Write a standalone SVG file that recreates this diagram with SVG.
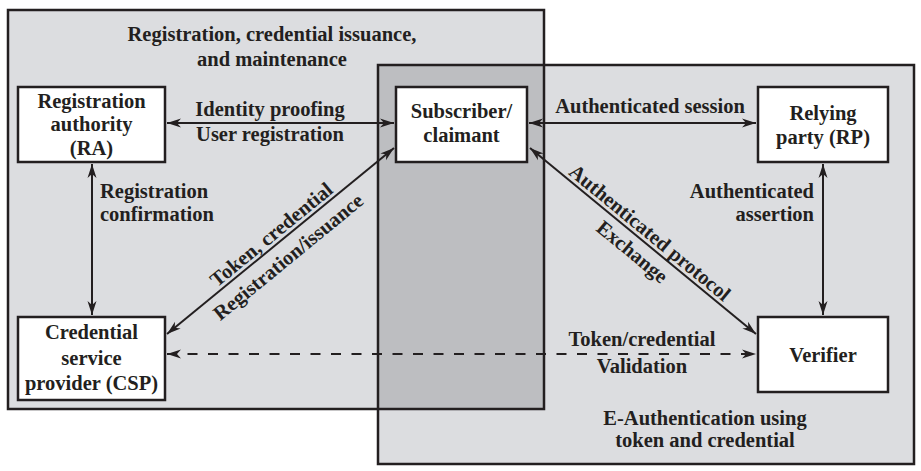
<svg xmlns="http://www.w3.org/2000/svg" width="921" height="471" viewBox="0 0 921 471">
<style>
  text { font-family: "Liberation Serif", "Times New Roman", serif; font-weight: bold; font-size: 20.5px; fill: #231f20; }
  .c { text-anchor: middle; }
  .r { text-anchor: end; }
  .box { fill: #ffffff; stroke: #231f20; stroke-width: 2.5; }
  .region { fill: none; stroke: #231f20; stroke-width: 2.5; }
  .conn { fill: none; stroke: #231f20; stroke-width: 2; }
  .dash { stroke-dasharray: 10 10.5; }
</style>
<defs>
  <marker id="ah" viewBox="-14 -5 15 10" refX="0" refY="0" markerWidth="15" markerHeight="10" markerUnits="userSpaceOnUse" orient="auto-start-reverse">
    <path d="M0,0 L-14,-4.5 L-10,0 L-14,4.5 Z" fill="#231f20"/>
  </marker>
</defs>

<g id="regions">
  <rect x="8" y="10" width="536" height="399" fill="#dcdde0"/>
  <rect x="378" y="65" width="536" height="399" fill="#dcdde0"/>
  <rect x="378" y="65" width="166" height="344" fill="#bdbec1"/>
  <rect class="region" x="8" y="10" width="536" height="399"/>
  <rect class="region" x="378" y="65" width="536" height="399"/>
  <text class="c" x="272" y="41">Registration, credential issuance,</text>
  <text class="c" x="272" y="66">and maintenance</text>
  <text class="c" x="705" y="425">E-Authentication using</text>
  <text class="c" x="705" y="447">token and credential</text>
</g>

<g id="connectors">
  <line class="conn" x1="167" y1="123" x2="394" y2="123" marker-start="url(#ah)" marker-end="url(#ah)"/>
  <line class="conn" x1="529" y1="123" x2="756" y2="123" marker-start="url(#ah)" marker-end="url(#ah)"/>
  <line class="conn" x1="92" y1="164" x2="92" y2="315" marker-start="url(#ah)" marker-end="url(#ah)"/>
  <line class="conn" x1="823" y1="164" x2="823" y2="315" marker-start="url(#ah)" marker-end="url(#ah)"/>
  <line class="conn" x1="167" y1="334" x2="394" y2="148" marker-start="url(#ah)" marker-end="url(#ah)"/>
  <line class="conn" x1="530" y1="148" x2="756" y2="334" marker-start="url(#ah)" marker-end="url(#ah)"/>
  <line class="conn dash" x1="167" y1="354" x2="756" y2="354" marker-start="url(#ah)" marker-end="url(#ah)"/>

  <text class="c" x="270" y="116">Identity proofing</text>
  <text class="c" x="270" y="141">User registration</text>
  <text class="c" x="650" y="113">Authenticated session</text>
  <text x="100" y="198">Registration</text>
  <text x="100" y="221">confirmation</text>
  <text class="r" x="814" y="198">Authenticated</text>
  <text class="r" x="814" y="221">assertion</text>
  <text class="c" x="642" y="346">Token/credential</text>
  <text class="c" x="642" y="373">Validation</text>
  <g transform="translate(280.5,241) rotate(-39.3)">
    <text class="c" x="-3" y="-4">Token, credential</text>
    <text class="c" x="-4" y="24">Registration/issuance</text>
  </g>
  <g transform="translate(643,241) rotate(39.45)">
    <text class="c" x="0" y="-4">Authenticated protocol</text>
    <text class="c" x="-1.5" y="22">Exchange</text>
  </g>
</g>

<g id="ra">
  <rect class="box" x="18" y="87" width="147" height="75"/>
  <text class="c" x="91.5" y="108">Registration</text>
  <text class="c" x="91.5" y="131">authority</text>
  <text class="c" x="91.5" y="155">(RA)</text>
</g>
<g id="subscriber">
  <rect class="box" x="396" y="87" width="131" height="75"/>
  <text class="c" x="461.5" y="118">Subscriber/</text>
  <text class="c" x="461.5" y="142">claimant</text>
</g>
<g id="rp">
  <rect class="box" x="758" y="87" width="130" height="75"/>
  <text class="c" x="823" y="120">Relying</text>
  <text class="c" x="823" y="144">party (RP)</text>
</g>
<g id="csp">
  <rect class="box" x="18" y="317" width="147" height="83"/>
  <text class="c" x="91.5" y="339">Credential</text>
  <text class="c" x="91.5" y="365">service</text>
  <text class="c" x="91.5" y="390">provider (CSP)</text>
</g>
<g id="verifier">
  <rect class="box" x="758" y="317" width="130" height="75"/>
  <text class="c" x="823" y="362">Verifier</text>
</g>
</svg>
